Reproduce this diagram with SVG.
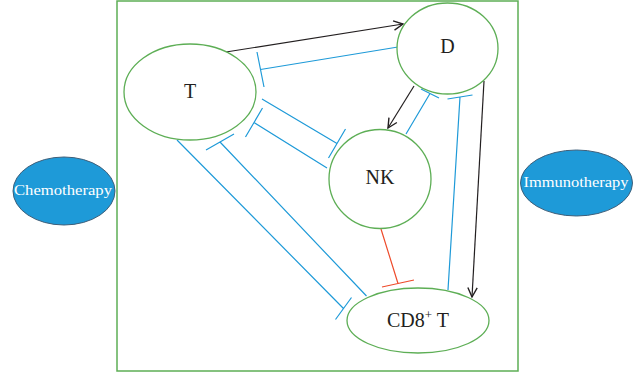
<svg xmlns="http://www.w3.org/2000/svg" width="644" height="379" viewBox="0 0 644 379">
<defs>
<marker id="arr" markerUnits="userSpaceOnUse" markerWidth="14" markerHeight="14" refX="9" refY="5" orient="auto" viewBox="0 0 12 10">
<path d="M1,1 L9,5 L1,9" fill="none" stroke="#231F20" stroke-width="1.2"/>
</marker>
</defs>
<style>
.frame{fill:none;stroke:#5DAE55;stroke-width:1.5}
.node{fill:#fff;stroke:#5DAE55;stroke-width:1.3}
.drug{fill:#1E9AD8;stroke:#3E5F7A;stroke-width:1}
.lbl{font-family:"Liberation Serif","Times New Roman",serif;font-size:20px;fill:#231F20;text-anchor:middle}
.dlbl{font-family:"Liberation Serif","Times New Roman",serif;font-size:15px;fill:#fff;text-anchor:middle}
.act{fill:none;stroke:#231F20;stroke-width:1.2;marker-end:url(#arr)}
.inh{fill:none;stroke:#1E9AD8;stroke-width:1.2}
.red{fill:none;stroke:#EE4B2B;stroke-width:1.2}
</style>
<rect class="frame" x="117" y="1" width="401" height="370"/>
<g id="chemotherapy">
<ellipse class="drug" cx="64" cy="191" rx="51" ry="34"/>
<text class="dlbl" x="63" y="195" textLength="98" lengthAdjust="spacingAndGlyphs">Chemotherapy</text>
</g>
<g id="immunotherapy">
<ellipse class="drug" cx="576.5" cy="183" rx="56" ry="33"/>
<text class="dlbl" x="576" y="187" textLength="105" lengthAdjust="spacingAndGlyphs">Immunotherapy</text>
</g>
<g id="connectors">
<path class="act" d="M226,52 L403,24"/>
<path class="act" d="M414,86 L388,128"/>
<path class="act" d="M484,81 L472,297"/>
<path class="inh" d="M398,47 L260.5,69.5 M257,52 L264,87"/>
<path class="inh" d="M406,134 L430,93.5 M421,89 L439,98"/>
<path class="inh" d="M448,290 L460,97 M447.5,99 L472.5,95"/>
<path class="inh" d="M262,99 L337,143.5 M345.5,129 L328.5,158"/>
<path class="inh" d="M327,168 L254,122.5 M262.5,108 L245.5,137"/>
<path class="inh" d="M177,140 L343.5,308.5 M351.5,297.5 L335.5,319.5"/>
<path class="inh" d="M366.5,296 L220,142 M206,150 L234,134"/>
<path class="red" d="M381,229 L398,283.5 M382,287 L414,280"/>
</g>
<g id="T">
<ellipse class="node" cx="190" cy="92" rx="66" ry="48"/>
<text class="lbl" x="190" y="98">T</text>
</g>
<g id="D">
<ellipse class="node" cx="447.5" cy="48.5" rx="50.5" ry="45.5"/>
<text class="lbl" x="447.5" y="53">D</text>
</g>
<g id="NK">
<ellipse class="node" cx="380" cy="179" rx="51" ry="49.5"/>
<text class="lbl" x="380" y="184">NK</text>
</g>
<g id="CD8T">
<ellipse class="node" cx="418" cy="320.5" rx="71" ry="32.5"/>
<text class="lbl" x="418" y="327" font-size="21">CD8<tspan font-size="13" dy="-8">+</tspan><tspan dy="8"> T</tspan></text>
</g>
</svg>
